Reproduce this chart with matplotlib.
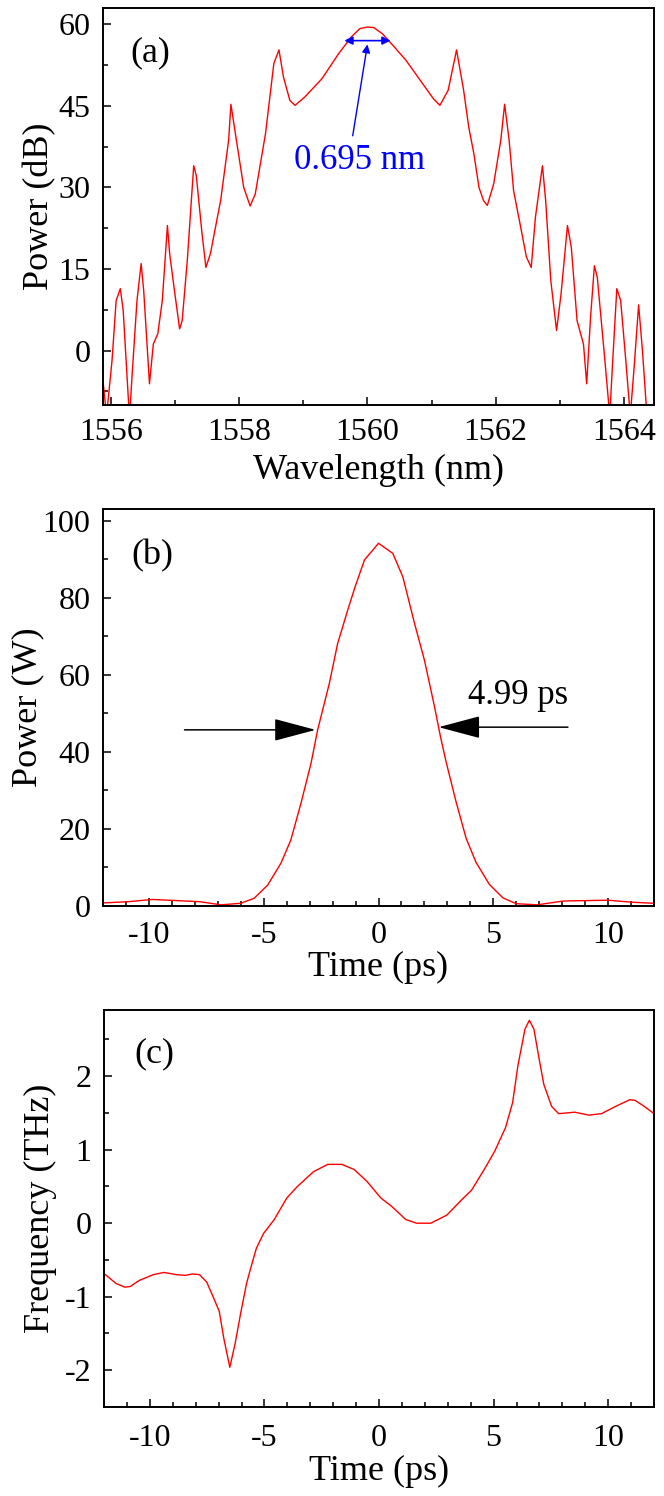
import matplotlib
matplotlib.use("Agg")
import matplotlib.pyplot as plt
from matplotlib.ticker import MultipleLocator

plt.rcParams['font.family'] = ['Liberation Serif', 'DejaVu Serif']
plt.rcParams['axes.unicode_minus'] = False

# ---------------- data ----------------
# (a) spectrum
wavelength_nm = [1555.875, 1555.93, 1556.016, 1556.08, 1556.145, 1556.19, 1556.275, 1556.29,
                 1556.33, 1556.405, 1556.47, 1556.51, 1556.6, 1556.66, 1556.73, 1556.8,
                 1556.88, 1556.915, 1556.99, 1557.07, 1557.11, 1557.19, 1557.29, 1557.33,
                 1557.42, 1557.48, 1557.55, 1557.71, 1557.835, 1557.87, 1557.94, 1558.07,
                 1558.17, 1558.25, 1558.41, 1558.54, 1558.62, 1558.69, 1558.79, 1558.87,
                 1559.02, 1559.29, 1559.55, 1559.75, 1559.88, 1560.0, 1560.1, 1560.23,
                 1560.4, 1560.6, 1560.86, 1561.03, 1561.13, 1561.26, 1561.39, 1561.50,
                 1561.58, 1561.66, 1561.74, 1561.81, 1561.87, 1561.97, 1562.08, 1562.14,
                 1562.21, 1562.28, 1562.39, 1562.48, 1562.555, 1562.62, 1562.73, 1562.78,
                 1562.86, 1562.95, 1563.02, 1563.12, 1563.18, 1563.27, 1563.37, 1563.42,
                 1563.48, 1563.54, 1563.585, 1563.69, 1563.78, 1563.82, 1563.89, 1563.95,
                 1564.03, 1564.1, 1564.16, 1564.23, 1564.29, 1564.36, 1564.47]
spectrum_db = [-5.5, -12.0, -1.8, 9.2, 11.4, 7.4, -9.8, -12.0,
               -4.3, 9.2, 16.0, 11.0, -6.1, 1.2, 3.1, 9.2,
               23.0, 17.8, 11.0, 4.0, 5.5, 16.6, 34.0, 32.2,
               21.5, 15.3, 17.8, 27.6, 38.7, 45.3, 39.9, 30.0,
               26.6, 28.8, 39.9, 52.8, 55.3, 50.3, 46.0, 45.1,
               46.6, 50.0, 54.6, 57.7, 59.2, 59.5, 59.4, 58.3,
               56.1, 53.4, 49.1, 46.3, 45.1, 47.9, 55.3, 47.9,
               41.1, 36.2, 30.0, 27.6, 26.7, 30.7, 38.7, 45.3,
               38.7, 29.4, 22.7, 17.2, 15.3, 24.5, 34.0, 27.6,
               12.9, 3.7, 10.4, 23.0, 19.0, 5.5, 1.2, -6.1,
               6.1, 15.6, 13.5, 0.0, -12.0, -3.1, 11.4, 9.2,
               -1.8, -12.0, -3.1, 8.4, 0.0, -12.0, -12.0]

# (b) temporal power
time_b_ps = [-12.0, -10.94, -9.83, -7.75, -6.87, -6.0, -5.42, -4.83, -4.25, -3.82,
             -3.38, -2.94, -2.65, -2.14, -1.78, -1.34, -1.02, -0.61, 0.0, 0.62,
             1.06, 1.57, 2.0, 2.44, 2.70, 2.94, 3.38, 3.82, 4.25, 4.83,
             5.42, 6.0, 6.9, 8.07, 10.0, 11.0, 12.0]
power_w = [0.8, 1.1, 1.7, 1.1, 0.3, 0.7, 2.0, 5.4, 11.1, 17.1,
           26.6, 37.0, 45.7, 57.8, 68.1, 76.8, 82.8, 89.8, 94.1, 91.5,
           85.4, 73.3, 63.8, 51.7, 43.9, 37.5, 27.0, 17.5, 11.3, 5.6,
           2.1, 0.6, 0.3, 1.3, 1.5, 1.0, 0.7]

# (c) chirp
time_c_ps = [-11.94, -11.47, -11.09, -10.85, -10.47, -9.85, -9.38, -8.84, -8.45, -8.14,
             -7.83, -7.52, -7.24, -6.97, -6.77, -6.51, -6.28, -6.04, -5.78, -5.58,
             -5.35, -5.04, -4.57, -4.03, -3.56, -2.86, -2.24, -1.62, -1.08, -0.53,
             0.09, 0.55, 1.17, 1.64, 2.26, 2.96, 3.58, 4.04, 4.59, 5.05,
             5.52, 5.83, 6.06, 6.37, 6.56, 6.76, 6.99, 7.19, 7.53, 7.84,
             8.54, 9.16, 9.71, 10.33, 10.95, 11.18, 11.57, 12.0]
frequency_thz = [-0.70, -0.82, -0.87, -0.86, -0.78, -0.70, -0.67, -0.70, -0.71, -0.69,
                 -0.70, -0.80, -1.00, -1.20, -1.57, -1.96, -1.64, -1.23, -0.82, -0.59,
                 -0.34, -0.14, 0.05, 0.34, 0.50, 0.70, 0.80, 0.80, 0.73, 0.57,
                 0.34, 0.23, 0.05, 0.0, 0.0, 0.11, 0.31, 0.45, 0.73, 0.98,
                 1.30, 1.64, 2.14, 2.64, 2.76, 2.64, 2.23, 1.89, 1.59, 1.49,
                 1.51, 1.47, 1.49, 1.59, 1.68, 1.67, 1.59, 1.49]

# ---------------- figure ----------------
fig = plt.figure(figsize=(6.64, 14.96), dpi=100)
W, H = 664.0, 1496.0

def make_ax(left, right, top, bottom):
    return fig.add_axes([left / W, 1 - bottom / H, (right - left) / W, (bottom - top) / H])

ax_a = make_ax(103, 654, 8, 405)
ax_b = make_ax(103, 654, 509, 906)
ax_c = make_ax(104, 654, 1010, 1407)

FT = 23     # tick labels
FL = 26     # axis labels
FA = 25     # annotations
red = '#ff0000'

for ax in (ax_a, ax_b, ax_c):
    for s in ax.spines.values():
        s.set_linewidth(1.4)
    ax.tick_params(which='both', direction='in', top=False, right=False,
                   labelsize=FT, width=1.1)
    ax.tick_params(which='major', length=6)
    ax.tick_params(which='minor', length=3.5)
    ax.tick_params(axis='y', which='major', pad=9)

ax_a.tick_params(axis='x', which='major', pad=9)
ax_b.tick_params(axis='x', which='major', pad=11)
ax_c.tick_params(axis='x', which='major', pad=12.5)

# (a)
ax_a.plot(wavelength_nm, spectrum_db, color=red, lw=1.0)
ax_a.set_xlim(1555.875, 1564.47)
ax_a.set_ylim(-10, 63)
ax_a.xaxis.set_major_locator(MultipleLocator(2))
ax_a.xaxis.set_minor_locator(MultipleLocator(1))
ax_a.yaxis.set_major_locator(MultipleLocator(15))
ax_a.yaxis.set_minor_locator(MultipleLocator(7.5))
ax_a.set_xlabel('Wavelength (nm)', fontsize=FL)
ax_a.set_ylabel('Power (dB)', fontsize=FL)
ax_a.xaxis.set_label_coords(0.5, -(454 - 405) / 397)
ax_a.yaxis.set_label_coords(-(103 - 56) / 551, 0.5)
ax_a.text(1556.61, 54.8, '(a)', fontsize=FL, ha='center', va='center')
ax_a.annotate('', xy=(1559.64, 57.0), xytext=(1560.36, 57.0),
              arrowprops=dict(arrowstyle='<|-|>', color='#0000ff', lw=1.2,
                              mutation_scale=12, shrinkA=0, shrinkB=0))
ax_a.annotate('', xy=(1560.0, 56.3), xytext=(1559.77, 39.5),
              arrowprops=dict(arrowstyle='-|>', color='#0000ff', lw=1.0,
                              mutation_scale=12, shrinkA=0, shrinkB=0))
ax_a.text(1559.88, 35.0, '0.695 nm', color='#0000ff', fontsize=FA,
          ha='center', va='center')

# (b)
ax_b.plot(time_b_ps, power_w, color=red, lw=1.0)
ax_b.set_xlim(-12, 12)
ax_b.set_ylim(0, 103)
ax_b.xaxis.set_major_locator(MultipleLocator(5))
ax_b.xaxis.set_minor_locator(MultipleLocator(1))
ax_b.yaxis.set_major_locator(MultipleLocator(20))
ax_b.yaxis.set_minor_locator(MultipleLocator(10))
ax_b.set_xlabel('Time (ps)', fontsize=FL)
ax_b.set_ylabel('Power (W)', fontsize=FL)
ax_b.xaxis.set_label_coords(0.5, -(951 - 906) / 397)
ax_b.yaxis.set_label_coords(-(103 - 44) / 551, 0.5)
ax_b.text(-9.84, 91, '(b)', fontsize=FL, ha='center', va='center')
arrow_kw = dict(arrowstyle='-|>,head_length=1.2,head_width=0.32', color='black',
                lw=1.1, mutation_scale=22, shrinkA=0, shrinkB=0)
ax_b.annotate('', xy=(-2.74, 45.7), xytext=(-8.45, 45.7), arrowprops=arrow_kw)
ax_b.annotate('', xy=(2.62, 46.4), xytext=(8.25, 46.4), arrowprops=arrow_kw)
ax_b.text(6.07, 54.5, '4.99 ps', fontsize=FA, ha='center', va='center')

# (c)
ax_c.plot(time_c_ps, frequency_thz, color=red, lw=1.0)
ax_c.set_xlim(-12, 12)
ax_c.set_ylim(-2.5, 2.9)
ax_c.xaxis.set_major_locator(MultipleLocator(5))
ax_c.xaxis.set_minor_locator(MultipleLocator(1))
ax_c.yaxis.set_major_locator(MultipleLocator(1))
ax_c.yaxis.set_minor_locator(MultipleLocator(0.5))
ax_c.set_xlabel('Time (ps)', fontsize=FL)
ax_c.set_ylabel('Frequency (THz)', fontsize=FL)
ax_c.xaxis.set_label_coords(0.5, -(1455 - 1407) / 397)
ax_c.yaxis.set_label_coords(-(104 - 57) / 550, 0.5)
ax_c.text(-9.79, 2.31, '(c)', fontsize=FL, ha='center', va='center')

fig.savefig('out.png', dpi=100)
